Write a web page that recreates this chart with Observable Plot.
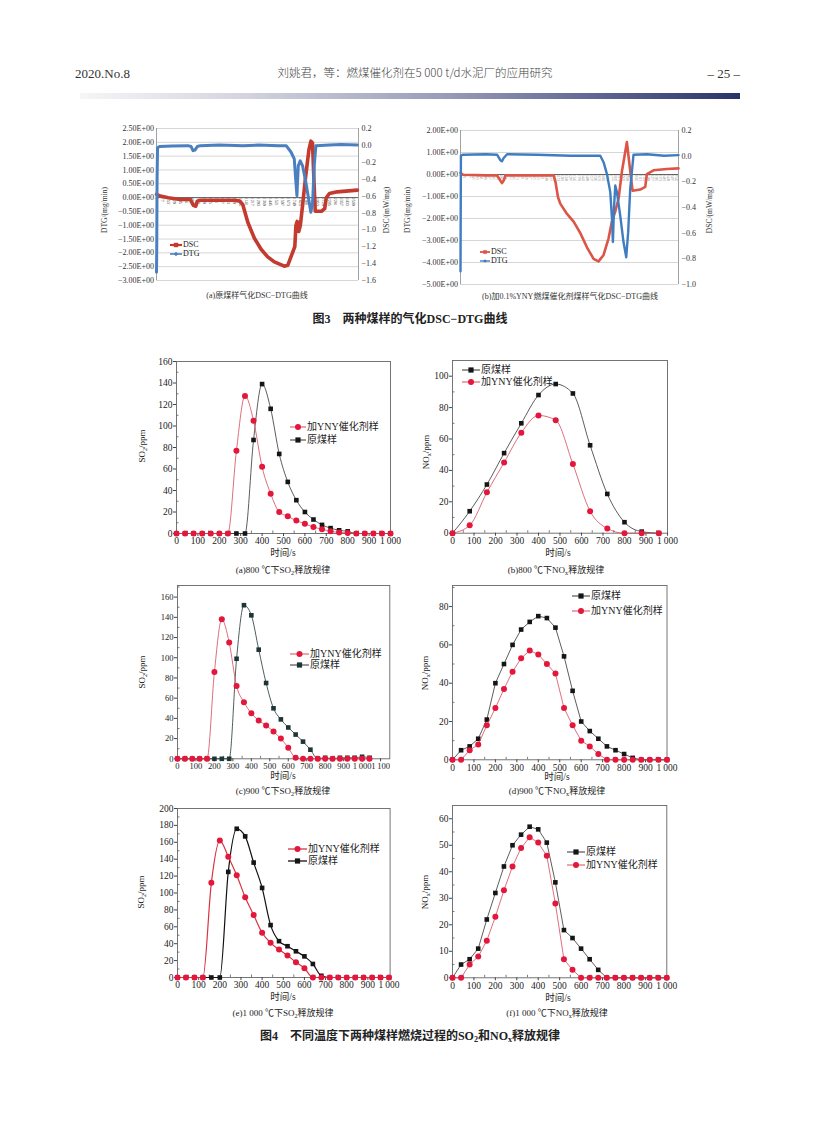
<!DOCTYPE html>
<html><head><meta charset="utf-8">
<script src="https://cdn.jsdelivr.net/npm/d3@7"></script>
<script src="https://cdn.jsdelivr.net/npm/@observablehq/plot@0.6"></script>
<style>
body{margin:0;background:#fff;}
#page{position:relative;width:816px;height:1145px;overflow:hidden;background:#fff;color:#222;
 font-family:"Liberation Serif","Noto Sans CJK SC",serif;}
.t{position:absolute;white-space:nowrap;line-height:1;}
svg{overflow:visible;}
</style></head><body><div id="page"></div>
<script>
// ---------------- DATA ----------------
// Fig.3 (a) raw coal, x = data index
const f3a_dsc_x = [1,50,150,300,430,470,500,520,560,700,1000,1060,1098,1162,1246,1331,1415,1500,1626,1670,1711,1760,1774,1790,1810,1830,1860,1900,1940,1965,1985,2005,2020,2100,2140,2160,2200,2300,2556];
const f3a_dsc_y = [-0.58,-0.6,-0.62,-0.64,-0.64,-0.71,-0.72,-0.66,-0.65,-0.65,-0.65,-0.66,-0.7,-0.91,-1.1,-1.23,-1.32,-1.38,-1.43,-1.42,-1.32,-1.2,-0.95,-0.9,-1.02,-0.95,-0.7,-0.35,-0.05,0.05,0.03,-0.45,-0.78,-0.78,-0.75,-0.62,-0.57,-0.55,-0.53];
const f3a_dtg_x = [1,4,8,14,40,200,400,440,465,490,520,560,800,1100,1300,1550,1650,1711,1753,1774,1787,1804,1829,1859,1901,1943,1964,1986,2007,2028,2200,2350,2556];
const f3a_dtg_y = [-2.7,-1.9,0.55,1.8,1.85,1.87,1.88,1.85,1.7,1.72,1.85,1.88,1.9,1.88,1.9,1.88,1.88,1.65,1.4,0.55,0.07,1.15,1.33,1.15,0.55,-0.17,-0.53,-0.2,1.15,1.88,1.9,1.92,1.9];
const f3a_xlabels = [1,77,153,229,305,381,457,533,609,685,761,837,913,989,1065,1141,1217,1293,1369,1445,1521,1597,1673,1749,1825,1901,1977,2053,2129,2205,2281,2357,2433,2509];
const f3a_left = [2.5,2,1.5,1,0.5,0,-0.5,-1,-1.5,-2,-2.5,-3];
const f3a_right = [0.2,0,-0.2,-0.4,-0.6,-0.8,-1.0,-1.2,-1.4,-1.6];
// Fig.3 (b) with 0.1% YNY catalyst
const f3b_dsc_x = [1,30,300,432,470,490,510,530,800,1099,1120,1150,1177,1256,1334,1413,1491,1569,1628,1687,1746,1785,1825,1864,1903,1962,1993,2029,2119,2178,2197,2276,2433,2570];
const f3b_dsc_y = [-0.13,-0.145,-0.15,-0.15,-0.19,-0.21,-0.19,-0.15,-0.15,-0.15,-0.2,-0.32,-0.37,-0.45,-0.51,-0.6,-0.71,-0.8,-0.82,-0.77,-0.64,-0.51,-0.43,-0.33,-0.12,0.11,-0.07,-0.27,-0.26,-0.24,-0.14,-0.11,-0.1,-0.095];
const f3b_dtg_x = [1,3,6,30,300,432,470,490,510,550,900,1300,1600,1648,1687,1726,1766,1786,1797,1810,1825,1844,1883,1922,1954,1977,2001,2040,2200,2400,2570];
const f3b_dtg_y = [-4.4,-2.2,0.86,0.9,0.92,0.9,0.65,0.6,0.75,0.92,0.9,0.85,0.86,0.85,0.56,0.03,-0.8,-2.0,-3.07,-1.5,-0.5,-0.8,-1.86,-3.07,-3.76,-2.62,-0.65,0.9,0.92,0.85,0.88];
const f3b_xlabels = [1,49,97,145,193,241,289,337,385,433,481,529,577,625,673,721,769,817,865,913,961,1009,1057,1105,1153,1201,1249,1297,1345,1393,1441,1489,1537,1585,1633,1681,1729,1777,1825,1873,1921,1969,2017,2065,2113,2161,2209,2257,2305,2353,2401,2449,2497,2545];
const f3b_left = [2,1,0,-1,-2,-3,-4,-5];
const f3b_right = [0.2,0,-0.2,-0.4,-0.6,-0.8,-1.0];

// Fig.4 (a) 800 ℃ SO2
const a_t   = [0,40,80,120,160,200,240,280,320,360,400,440,480,520,560,600,640,680,720,760,800,840,880,920,960,1000];
const a_raw = [0,0,0,0,0,0,0,0,0,87,139,116,74,48,31,20,13,8,5,3,2,0,0,0,0,0];
const a_yny = [0,0,0,0,0,0,0,77,128,105,62,37,20,16,12,9,6,4,2,1,0.5,0,0,0,0,0];
// (b) 800 ℃ NOx
const b_t   = [0,80,160,240,320,400,480,560,640,720,800,880,960];
const b_raw = [0,14,31,51,70,88,95,89,56,25,7,1,0];
const b_yny = [0,5,26,45,64,75,72,44,14,3,0,0,0];
// (c) 900 ℃ SO2
const c_t   = [0,40,80,120,160,200,240,280,320,360,400,440,480,520,560,600,640,680,720,760,800,840,880,920,960,1000,1040];
const c_raw = [0,0,0,0,0,0,0,0,99,152,142,108,75,50,39,31,24,17,9,0,1,0,1,1,1,2,1];
const c_yny = [0,0,0,0,0,86,138,115,72,56,45,38,33,27,20,11,1,0,0,0,0,0,0,0,0,0,0];
// (d) 900 ℃ NOx
const d_t   = a_t;
const d_raw = [0,5,7,11,21,40,50,60,68,72,75,74,69,54,36,20,15,11,7,5,3,1,0,0,0,0];
const d_yny = [0,0,5,8,18,27,37,46,53,57,55,50,45,27,18,10,7,3,0,0,0,0,0,0,0,0];
// (e) 1000 ℃ SO2
const e_t   = a_t;
const e_raw = [0,0,0,0,0,0,125,176,167,136,106,62,43,37,31,25,16,2,0,0,0,0,0,0,0,0];
const e_yny = [0,0,0,0,112,162,143,121,95,74,53,41,33,26,18,11,0,0,0,0,0,0,0,0,0,0];
// (f) 1000 ℃ NOx
const f_t   = a_t;
const f_raw = [0,5,7,11,22,32,42,50,54,57,56,51,36,18,15,11,7,3,0,0,0,0,0,0,0,0];
const f_yny = [0,0,5,8,14,23,33,42,49,53,51,46,28,7,3,0,0,0,0,0,0,0,0,0,0,0];

const LBL_RAW = "原煤样", LBL_YNY = "加YNY催化剂样";

// ---------------- HELPERS ----------------
const page = document.getElementById("page");
const SERIF = '"Liberation Serif","Noto Sans CJK SC",serif';
const SANS = '"Noto Sans CJK SC","Liberation Sans",sans-serif';
const sub = s => `<span style="font-size:0.68em;vertical-align:-0.3em">${s}</span>`;
function txt(html, x, y, o = {}) {
  const d = document.createElement("div");
  d.className = "t"; d.innerHTML = html;
  d.style.left = x + "px"; d.style.top = y + "px";
  d.style.fontSize = (o.size || 9) + "px";
  d.style.fontFamily = o.family || SERIF;
  d.style.fontWeight = o.weight || 400;
  d.style.color = o.color || "#222";
  const tx = o.anchor === "end" ? "-100%" : o.anchor === "start" ? "0" : "-50%";
  d.style.transform = `translate(${tx},-50%)` + (o.rotate ? ` rotate(${o.rotate}deg)` : "");
  page.append(d);
  return d;
}
function place(el, left, top) {
  el.style.position = "absolute"; el.style.left = left + "px"; el.style.top = top + "px";
  page.append(el);
}
function symbolSVG(sym, cx, cy, r, fill) {
  if (sym === "square") return `<rect x="${cx-r}" y="${cy-r}" width="${2*r}" height="${2*r}" fill="${fill}"/>`;
  if (sym === "diamond") return `<path d="M${cx},${cy-r}L${cx+r},${cy}L${cx},${cy+r}L${cx-r},${cy}Z" fill="${fill}"/>`;
  return `<circle cx="${cx}" cy="${cy}" r="${r}" fill="${fill}"/>`;
}
function legend(x, y, label, o) {
  const len = o.len || 18;
  const d = document.createElement("div");
  d.className = "t";
  d.style.left = x + "px"; d.style.top = y + "px"; d.style.transform = "translate(0,-50%)";
  d.style.display = "flex"; d.style.alignItems = "center";
  d.style.fontSize = (o.size || 10) + "px"; d.style.fontFamily = o.family || SERIF; d.style.color = "#222";
  d.innerHTML = `<svg width="${len}" height="10" style="display:block;margin-right:1px"><line x1="0" y1="5" x2="${len}" y2="5" stroke="${o.line}" stroke-width="${o.lw || 1}"/>${symbolSVG(o.sym, len/2, 5, o.r || 2.8, o.fill)}</svg><span>${label}</span>`;
  page.append(d);
}
const grp = s => { const n = String(s); return n.length > 3 ? n.slice(0, n.length - 3) + "\u2009" + n.slice(-3) : n; };

// ---------------- FIG 4 PANELS ----------------
function panel(p) {
  const W = p.r - p.l, H = p.b - p.t;
  const mL = 30, mR = 14, mT = 8, mB = 16;
  const raw = p.t_.map((t, i) => ({t, v: p.raw[i]}));
  const yny = p.t_.map((t, i) => ({t, v: p.yny[i]}));
  const curve = p.curve || "monotone-x";
  const chart = Plot.plot({
    width: W + mL + mR, height: H + mT + mB,
    marginLeft: mL, marginRight: mR, marginTop: mT, marginBottom: mB,
    x: {domain: p.xd}, y: {domain: p.yd},
    style: {background: "transparent", fontFamily: SERIF, fontSize: (p.fs || 9.5) + "px", color: "#222", overflow: "visible"},
    marks: [
      Plot.tickY(p.yMinor, {y: d => d, insetRight: W - 2.5, stroke: "#444", strokeWidth: 0.7}),
      Plot.tickX(p.xMinor, {x: d => d, insetTop: H - 2.5, stroke: "#444", strokeWidth: 0.7}),
      Plot.frame({stroke: "#666", strokeWidth: 0.9}),
      Plot.axisY({ticks: p.yTicks, tickSize: 3, tickPadding: 1, label: null, stroke: "#444"}),
      Plot.axisX({ticks: p.xTicks, tickSize: 3, tickPadding: 1, label: null, tickFormat: grp, stroke: "#444"}),
      Plot.line(raw, {x: "t", y: "v", curve, stroke: p.blackLine || "#333", strokeWidth: p.lw || 0.8}),
      Plot.dot(raw, {x: "t", y: "v", symbol: "square", r: 2.6, fill: p.blackFill || "#151515"}),
      Plot.line(yny, {x: "t", y: "v", curve, stroke: p.redLine || "#d44a5a", strokeWidth: p.lw || 0.8}),
      Plot.dot(yny, {x: "t", y: "v", symbol: "circle", r: 3, fill: "#e3173c"})
    ]
  });
  place(chart, p.l - mL, p.t - mT);
}
const y20 = m => d3.range(0, m + 1, 20), y10m = m => d3.range(10, m, 20);
const x100 = m => d3.range(0, m + 1, 100), x50 = m => d3.range(50, m, 100);

panel({l: 176, t: 360.7, r: 390, b: 532.7, xd: [0, 1000], yd: [0, 160], t_: a_t, raw: a_raw, yny: a_yny,
  yTicks: y20(160), yMinor: y10m(160), xTicks: x100(1000), xMinor: x50(1000)});
panel({l: 451.7, t: 360, r: 666.7, b: 532.7, xd: [0, 1000], yd: [0, 110], t_: b_t, raw: b_raw, yny: b_yny,
  yTicks: y20(100), yMinor: y10m(110), xTicks: x100(1000), xMinor: x50(1000)});
panel({l: 176.7, t: 585, r: 389, b: 758.3, xd: [0, 1150], yd: [0, 171.5], t_: c_t, raw: c_raw, yny: c_yny, fs: 8.6,
  yTicks: y20(160), yMinor: y10m(171), xTicks: x100(1100), xMinor: x50(1150), blackFill: "#1d3535", blackLine: "#233"});
panel({l: 451.5, t: 585, r: 666, b: 759.3, xd: [0, 1000], yd: [0, 91], t_: d_t, raw: d_raw, yny: d_yny,
  yTicks: y20(80), yMinor: y10m(91), xTicks: x100(1000), xMinor: x50(1000), curve: "linear"});
panel({l: 176.7, t: 807.7, r: 389.3, b: 976.7, xd: [0, 1005], yd: [0, 200], t_: e_t, raw: e_raw, yny: e_yny,
  yTicks: y20(200), yMinor: y10m(200), xTicks: x100(1000), xMinor: x50(1000), lw: 1.2, redLine: "#d8323f", blackLine: "#111"});
panel({l: 451.7, t: 805, r: 666, b: 977.3, xd: [0, 1000], yd: [0, 65], t_: f_t, raw: f_raw, yny: f_yny,
  yTicks: d3.range(0, 61, 10), yMinor: d3.range(5, 65, 10), xTicks: x100(1000), xMinor: x50(1000), curve: "linear"});

// legends
const LR = {line: "#d44a5a", sym: "circle", fill: "#e3173c", r: 3};
const LB = {line: "#333", sym: "square", fill: "#151515", r: 2.6};
legend(290, 427, LBL_YNY, {...LR, len: 16});
legend(290, 439.5, LBL_RAW, {...LB, len: 16});
legend(462, 370, LBL_RAW, {...LB, len: 18});
legend(462, 382, LBL_YNY, {...LR, len: 18});
legend(290, 653.5, LBL_YNY, {...LR, len: 19});
legend(290, 665, LBL_RAW, {...LB, fill: "#1d3535", len: 19});
legend(572, 596, LBL_RAW, {...LB, len: 18});
legend(572, 610.5, LBL_YNY, {...LR, len: 18});
legend(288, 849, LBL_YNY, {...LR, line: "#d8323f", lw: 1.3, len: 19});
legend(288, 861, LBL_RAW, {...LB, line: "#111", lw: 1.3, len: 19});
legend(567, 852, LBL_RAW, {...LB, len: 18});
legend(567, 865, LBL_YNY, {...LR, len: 18});

// axis titles & captions fig 4
[[143, 446, "SO" + sub("2") + "/ppm"], [426.5, 452, "NO" + sub("x") + "/ppm"],
 [143, 672, "SO" + sub("2") + "/ppm"], [426, 673, "NO" + sub("x") + "/ppm"],
 [142, 892, "SO" + sub("2") + "/ppm"], [426, 892, "NO" + sub("x") + "/ppm"]]
 .forEach(([x, y, s]) => txt(s, x, y, {size: 9, rotate: -90}));
[[283, 554], [558, 554], [283, 777], [557, 778], [283, 998], [558, 999]]
 .forEach(([x, y]) => txt("时间/s", x, y, {size: 9.5}));
txt("(a)800 ℃下SO" + sub("2") + "释放规律", 283, 571, {size: 9});
txt("(b)800 ℃下NO" + sub("x") + "释放规律", 556, 571, {size: 9});
txt("(c)900 ℃下SO" + sub("2") + "释放规律", 283, 792, {size: 9});
txt("(d)900 ℃下NO" + sub("x") + "释放规律", 557, 792, {size: 9});
txt("(e)1 000 ℃下SO" + sub("2") + "释放规律", 283, 1014, {size: 9});
txt("(f)1 000 ℃下NO" + sub("x") + "释放规律", 557, 1014, {size: 9});
txt("图4　不同温度下两种煤样燃烧过程的SO" + sub("2") + "和NO" + sub("x") + "释放规律", 410, 1037, {size: 12, weight: 700});

// ---------------- FIG 3 ----------------
function fig3(p) {
  const mL = 48, mR = 30, mT = 6, mB = 6;
  const W = p.r - p.l, H = p.b - p.t;
  const xd = [1, 2570];
  const dsc = p.dx.map((x, i) => ({x, v: p.dy[i]}));
  const dtg = p.tx.map((x, i) => ({x, v: p.ty[i]}));
  const fmtE = v => (v < 0 ? "−" : "") + Math.abs(v).toFixed(2) + "E+00";
  const fromL = p.fromLeft;
  const fmtR = v => { const r = Math.round(fromL(v) * 10) / 10; return (r < 0 ? "−" : "") + Math.abs(r).toFixed(1); };
  const chart = Plot.plot({
    width: W + mL + mR, height: H + mT + mB,
    marginLeft: mL, marginRight: mR, marginTop: mT, marginBottom: mB,
    x: {domain: xd, axis: null}, y: {domain: p.yd},
    style: {background: "transparent", fontFamily: SERIF, fontSize: "8px", color: "#333", overflow: "visible"},
    marks: [
      Plot.gridY(p.left, {stroke: "#c4c4c4", strokeOpacity: 1, strokeWidth: 0.7}),
      Plot.ruleX(xd, {stroke: "#8a8a8a", strokeWidth: 0.8}),
      Plot.ruleY([0], {stroke: "#555", strokeWidth: 0.9}),
      Plot.axisY({ticks: p.left, tickFormat: fmtE, tickSize: 0, tickPadding: 2.5, label: null}),
      Plot.axisY({anchor: "right", ticks: p.right.map(p.toLeft), tickFormat: fmtR, tickSize: 0, tickPadding: 3, label: null}),
      Plot.text(p.xl, {x: d => d, y: () => 0, text: d => String(d), rotate: 90, textAnchor: "start", fontSize: p.lsize, fill: p.lcolor}),
      Plot.line(dsc, {x: "x", y: d => p.toLeft(d.v), stroke: p.red, strokeWidth: p.redW, strokeLinejoin: "round"}),
      Plot.line(dtg, {x: "x", y: "v", stroke: p.blue, strokeWidth: p.blueW, strokeLinejoin: "round"})
    ]
  });
  place(chart, p.l - mL, p.t - mT);
}
fig3({l: 156, r: 358, t: 128, b: 280, yd: [-3, 2.5], left: f3a_left, right: f3a_right,
  toLeft: v => 2.5 + (v - 0.2) * 5.5 / 1.8, fromLeft: y => 0.2 + (y - 2.5) * 1.8 / 5.5,
  dx: f3a_dsc_x, dy: f3a_dsc_y, tx: f3a_dtg_x, ty: f3a_dtg_y, xl: f3a_xlabels, lsize: 4.2, lcolor: "#444",
  red: "#c23b2e", blue: "#4a7fc0", redW: 3.6, blueW: 3});
fig3({l: 460, r: 678, t: 130, b: 284, yd: [-5, 2], left: f3b_left, right: f3b_right,
  toLeft: v => 2 + (v - 0.2) * 7 / 1.2, fromLeft: y => 0.2 + (y - 2) * 1.2 / 7,
  dx: f3b_dsc_x, dy: f3b_dsc_y, tx: f3b_dtg_x, ty: f3b_dtg_y, xl: f3b_xlabels, lsize: 3.4, lcolor: "#888",
  red: "#dc5546", blue: "#3f7dc0", redW: 2.6, blueW: 2.4});

// fig 3 legends & titles
legend(170, 245, "DSC", {line: "#c23b2e", lw: 2.2, sym: "square", fill: "#c23b2e", r: 2.2, len: 12, size: 8});
legend(170, 254, "DTG", {line: "#4a7fc0", lw: 1.6, sym: "diamond", fill: "#4a7fc0", r: 2.2, len: 12, size: 8});
legend(480, 252, "DSC", {line: "#dc5546", lw: 1.8, sym: "square", fill: "#dc5546", r: 1.8, len: 10, size: 8});
legend(480, 260.5, "DTG", {line: "#3f7dc0", lw: 1.4, sym: "diamond", fill: "#3f7dc0", r: 1.8, len: 10, size: 8});
txt("DTG/(mg/min)", 105, 210, {size: 7.5, rotate: -90, color: "#333"});
txt("DSC/(mW/mg)", 387, 210, {size: 7.5, rotate: -90, color: "#333"});
txt("DTG/(mg/min)", 408, 210, {size: 7.5, rotate: -90, color: "#333"});
txt("DSC/(mW/mg)", 710, 210, {size: 7.5, rotate: -90, color: "#333"});
txt("(a)原煤样气化DSC−DTG曲线", 257, 296, {size: 8, color: "#333"});
txt("(b)加0.1%YNY燃煤催化剂煤样气化DSC−DTG曲线", 570, 297, {size: 8, color: "#333"});
txt("图3　两种煤样的气化DSC−DTG曲线", 410, 319, {size: 12, weight: 700});

// ---------------- HEADER ----------------
txt("2020.No.8", 75, 73, {size: 13, anchor: "start", color: "#333"});
txt("刘姚君，等：燃煤催化剂在5 000 t/d水泥厂的应用研究", 415, 73, {size: 11.5, family: SANS, weight: 300, color: "#444"});
txt("– 25 –", 740, 73, {size: 13, anchor: "end", color: "#333"});
const bar = document.createElement("div");
bar.style.cssText = "position:absolute;left:80px;top:93px;width:660px;height:6px;background:linear-gradient(to right,#f6f6f8 0%,#d3d4df 25%,#9a9cb8 55%,#5b6290 80%,#2b3466 100%)";
page.append(bar);
</script></body></html>
